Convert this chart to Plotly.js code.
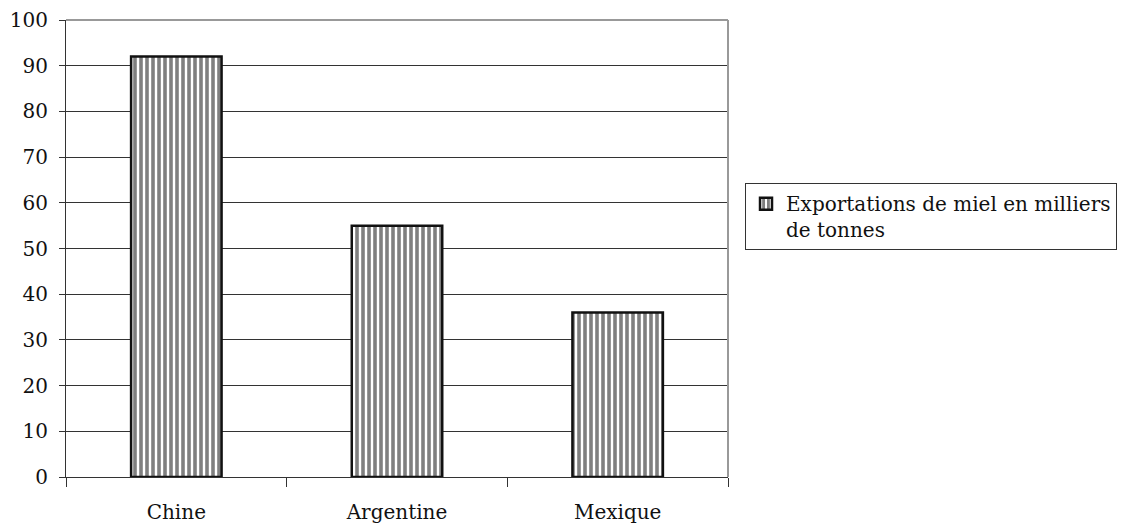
<!DOCTYPE html>
<html>
<head>
<meta charset="utf-8">
<script src="https://cdn.plot.ly/plotly-3.0.1.min.js"></script>
<style>html,body{margin:0;padding:0;background:#fff;}#chart{width:1123px;height:526px;}</style>
</head>
<body>
<div id="chart"></div>
<script>
const categories = ["Chine", "Argentine", "Mexique"];
const values = [92, 55, 36];
const seriesName = "Exportations de miel en milliers<br>de tonnes";
const yTicks = [0, 10, 20, 30, 40, 50, 60, 70, 80, 90, 100];

const font = "'DejaVu Serif', 'Liberation Serif', serif";

const trace = {
  type: "bar",
  x: categories,
  y: values,
  name: seriesName,
  width: 0.41,
  showlegend: true,
  marker: {
    color: "#ffffff",
    line: {color: "#111111", width: 2.5},
    pattern: {shape: "|", fgcolor: "#000000", bgcolor: "#ffffff", size: 6, solidity: 0.6, fillmode: "overlay"}
  }
};

const layout = {
  width: 1123, height: 526,
  margin: {l: 66, r: 395, t: 20, b: 49, pad: 0, autoexpand: false},
  paper_bgcolor: "#ffffff", plot_bgcolor: "#ffffff",
  font: {family: font, size: 20, color: "#111"},
  showlegend: true,
  legend: {
    x: 1.0257, xanchor: "left", y: 0.643, yanchor: "top",
    bordercolor: "#333", borderwidth: 1, bgcolor: "#fff",
    font: {family: font, size: 20, color: "#111"},
    itemwidth: 30, valign: "top",
    entrywidth: 385, entrywidthmode: "pixels"
  },
  xaxis: {
    type: "category",
    showline: true, linecolor: "#333", linewidth: 1,
    ticks: "outside", tickson: "boundaries", ticklen: 9, tickcolor: "#333",
    ticklabelstandoff: 17,
    showgrid: false, zeroline: false,
    tickfont: {family: font, size: 20, color: "#111"}
  },
  yaxis: {
    range: [0, 100], tickvals: yTicks, ticktext: yTicks.map(String),
    showline: true, linecolor: "#333", linewidth: 1,
    ticks: "outside", ticklen: 6, tickcolor: "#333",
    ticklabelstandoff: 7,
    showgrid: true, gridcolor: "#333", gridwidth: 1,
    zeroline: false,
    tickfont: {family: font, size: 20, color: "#111"}
  },
  shapes: [
    {type: "line", xref: "paper", yref: "paper", x0: 0, x1: 1, y0: 1, y1: 1, line: {color: "#999", width: 2}},
    {type: "line", xref: "paper", yref: "paper", x0: 1, x1: 1, y0: 0, y1: 1, line: {color: "#999", width: 2}}
  ]
};

Plotly.newPlot("chart", [trace], layout, {displayModeBar: false, staticPlot: true});
</script>
</body>
</html>
